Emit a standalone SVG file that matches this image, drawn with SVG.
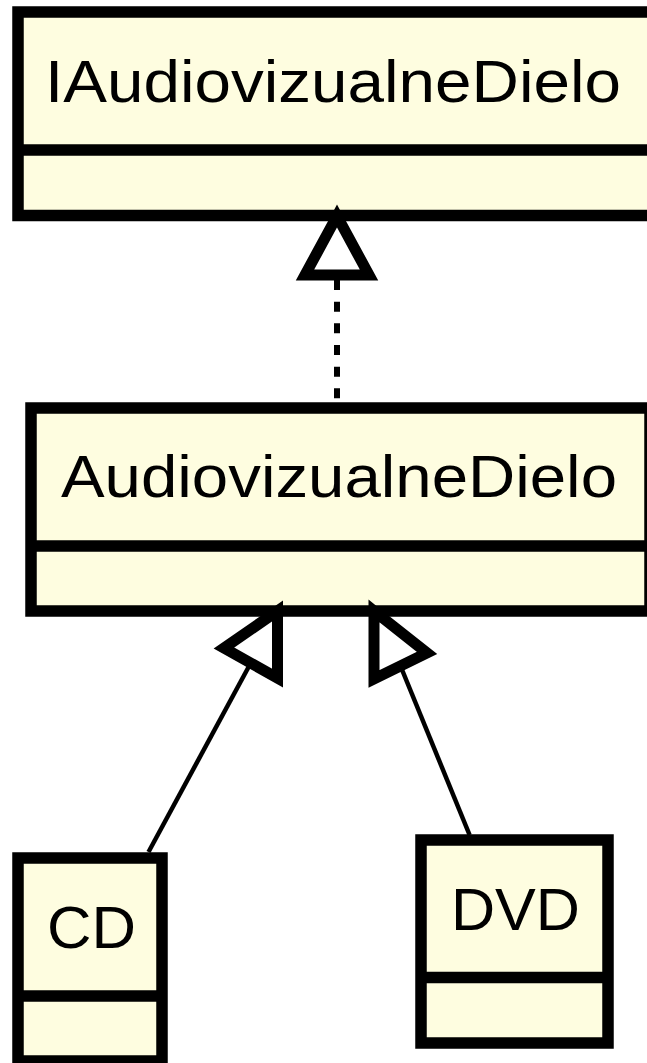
<svg xmlns="http://www.w3.org/2000/svg" width="647" height="1063" viewBox="0 0 647 1063">
  <style>
    .box { fill: #FEFDE0; stroke: #000; stroke-width: 11.5; }
    .div { stroke: #000; stroke-width: 11.5; fill: none; }
    .lbl { font-family: "Liberation Sans", Arial, sans-serif; font-size: 60px; fill: #000; }
    .edge { stroke: #000; stroke-width: 4.5; fill: none; }
    .dash { stroke: #000; stroke-width: 6; fill: none; stroke-dasharray: 10 11.67; }
    .head { fill: #fff; stroke: #000; stroke-width: 11; stroke-linejoin: miter; stroke-miterlimit: 10; }
  </style>
  <rect width="647" height="1063" fill="#fff"/>
  <g id="IAudiovizualneDielo">
    <rect class="box" x="18" y="12" width="650" height="203.5"/>
    <line class="div" x1="18" y1="150" x2="668" y2="150"/>
    <text class="lbl" x="45" y="102" textLength="576" lengthAdjust="spacingAndGlyphs">IAudiovizualneDielo</text>
  </g>
  <g id="AudiovizualneDielo">
    <rect class="box" x="31" y="408" width="619" height="203"/>
    <line class="div" x1="31" y1="546" x2="650" y2="546"/>
    <text class="lbl" x="61" y="497" textLength="556" lengthAdjust="spacingAndGlyphs">AudiovizualneDielo</text>
  </g>
  <g id="CD">
    <rect class="box" x="18" y="858" width="144" height="203"/>
    <line class="div" x1="18" y1="996" x2="162" y2="996"/>
    <text class="lbl" x="47" y="948" textLength="89" lengthAdjust="spacingAndGlyphs">CD</text>
  </g>
  <g id="DVD">
    <rect class="box" x="421" y="840" width="187" height="203"/>
    <line class="div" x1="421" y1="977.5" x2="608" y2="977.5"/>
    <text class="lbl" x="451" y="930" textLength="129" lengthAdjust="spacingAndGlyphs">DVD</text>
  </g>
  <g id="connectors">
    <line class="dash" x1="337" y1="280" x2="337" y2="403"/>
    <polygon class="head" points="337,216 305,275 369,275"/>
    <line class="edge" x1="148.5" y1="852" x2="250.75" y2="663"/>
    <polygon class="head" points="277.5,611 224,648 277.5,678"/>
    <line class="edge" x1="469.6" y1="835" x2="400.5" y2="666"/>
    <polygon class="head" points="374,611 427,653 374,679"/>
  </g>
</svg>
